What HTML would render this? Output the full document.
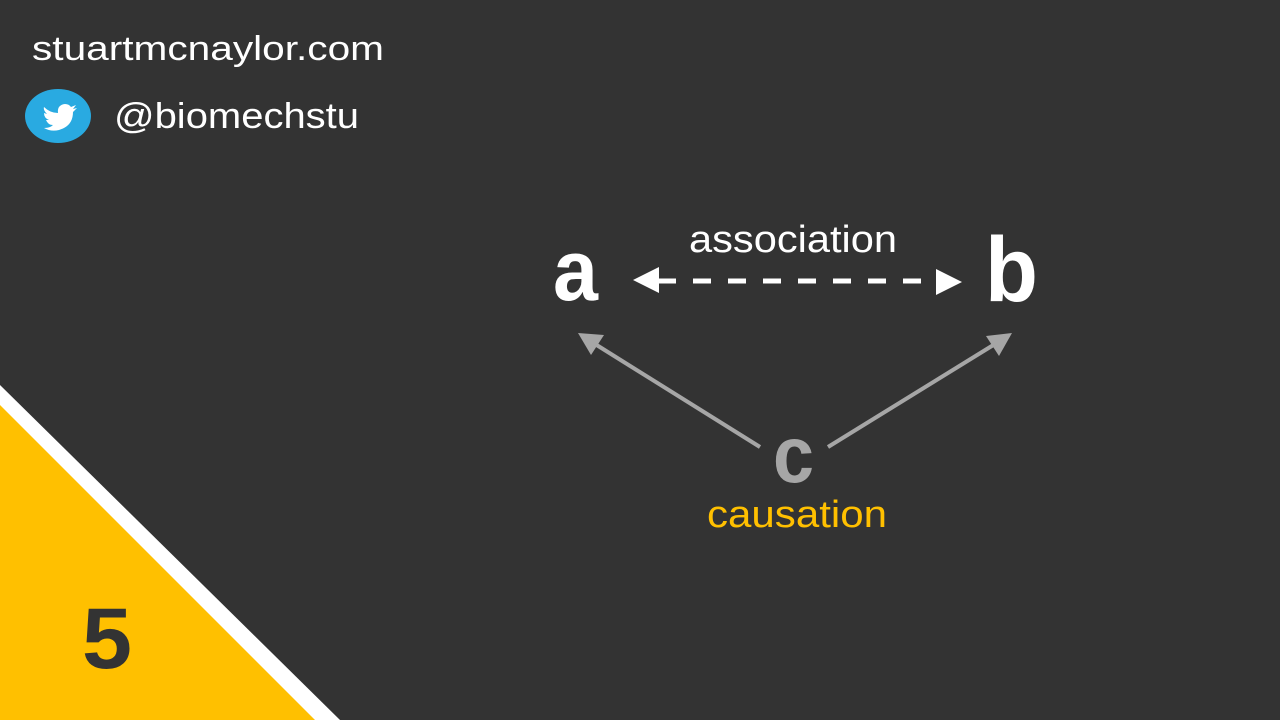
<!DOCTYPE html>
<html><head><meta charset="utf-8"><style>
html,body{margin:0;padding:0;background:#333333;}
svg{display:block;}
text{font-family:"Liberation Sans",sans-serif;}
</style></head><body>
<svg width="1280" height="720" viewBox="0 0 1280 720" xmlns="http://www.w3.org/2000/svg">
<rect width="1280" height="720" fill="#333333"/>
<polygon points="0,385 340,720 0,720" fill="#ffffff"/>
<polygon points="0,405 315,720 0,720" fill="#ffc000"/>
<text x="82" y="668" font-size="86" font-weight="bold" fill="#333333" textLength="50" lengthAdjust="spacingAndGlyphs">5</text>

<text x="32" y="60" font-size="34" fill="#ffffff" textLength="352" lengthAdjust="spacingAndGlyphs">stuartmcnaylor.com</text>
<ellipse cx="58" cy="116" rx="33" ry="27" fill="#29aae1"/>
<path d="M44,107 q6,6 14,6 q-1,-8 7,-9 q4,0 6,3 l5,-2 -3,4 4,-1 -4,4 q0,14 -14,18 q-8,2 -15,-2 q6,0 9,-3 q-5,0 -7,-5 h3 q-5,-2 -5,-7 l3,1 q-4,-4 -3,-7z" fill="#ffffff"/>
<text x="114" y="128" font-size="36" fill="#ffffff" textLength="245" lengthAdjust="spacingAndGlyphs">@biomechstu</text>

<text x="689" y="252" font-size="38" fill="#ffffff" textLength="208" lengthAdjust="spacingAndGlyphs">association</text>
<text x="553" y="300" font-size="86" font-weight="bold" fill="#ffffff" textLength="45" lengthAdjust="spacingAndGlyphs">a</text>
<text x="985" y="301" font-size="92" font-weight="bold" fill="#ffffff" textLength="53" lengthAdjust="spacingAndGlyphs">b</text>
<text x="773" y="482" font-size="80" font-weight="bold" fill="#a6a6a6" textLength="41" lengthAdjust="spacingAndGlyphs">c</text>
<text x="707" y="527" font-size="38" fill="#ffc000" textLength="180" lengthAdjust="spacingAndGlyphs">causation</text>

<line x1="658" y1="281" x2="935" y2="281" stroke="#ffffff" stroke-width="5" stroke-dasharray="18 17"/>
<polygon points="633,280 659,267 659,293" fill="#ffffff"/>
<polygon points="962,282 936,269 936,295" fill="#ffffff"/>

<line x1="760" y1="447" x2="595" y2="344" stroke="#a6a6a6" stroke-width="4"/>
<polygon points="578,333 604,335 591,355" fill="#a6a6a6"/>
<line x1="828" y1="447" x2="995" y2="344" stroke="#a6a6a6" stroke-width="4"/>
<polygon points="1012,333 986,336 999,356" fill="#a6a6a6"/>
</svg>
</body></html>
